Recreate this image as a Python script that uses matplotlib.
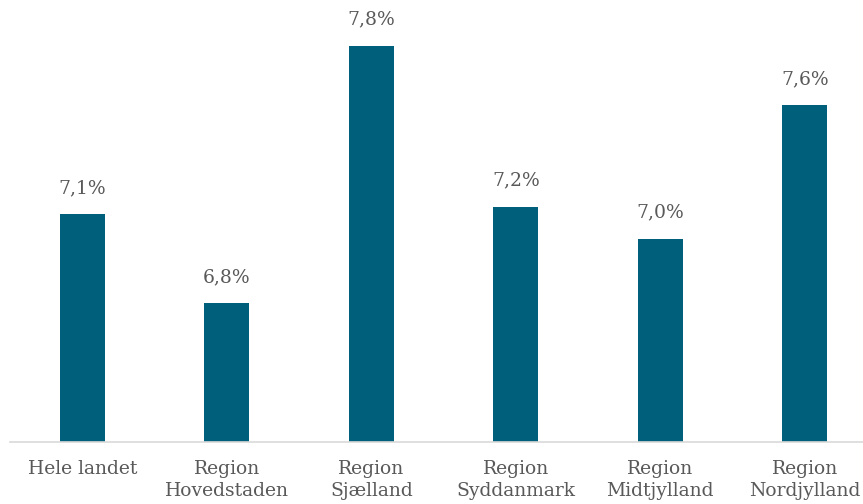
import matplotlib.pyplot as plt

regions = ["Hele landet", "Region\nHovedstaden", "Region\nSjælland",
           "Region\nSyddanmark", "Region\nMidtjylland", "Region\nNordjylland"]
shares = [7.12, 6.76, 7.80, 7.15, 7.02, 7.56]

bar_color = "#005f7a"
text_color = "#595959"

plt.rcParams['font.family'] = ['DejaVu Serif']

fig = plt.figure(figsize=(8.63, 5.04), dpi=100)
ax = fig.add_axes([10/863, 62/504, 867/863, 442/504])

x = range(len(regions))
bars = ax.bar(x, shares, width=0.31, color=bar_color, bottom=0)

for xi, v in zip(x, shares):
    ax.text(xi, v + 0.07, f"{v:.1f}%".replace('.', ','), ha='center', va='bottom',
            fontsize=13.5, color=text_color)

ax.set_ylim(6.2, 7.986)
ax.set_xlim(-0.5, len(regions) - 0.5)
ax.set_xticks(list(x))
ax.set_xticklabels(regions, fontsize=13.5, color=text_color, linespacing=1.25)
ax.tick_params(axis='x', length=0, pad=13)
ax.set_yticks([])

for side in ['top', 'right', 'left']:
    ax.spines[side].set_visible(False)
ax.spines['bottom'].set_color('#d9d9d9')
ax.spines['bottom'].set_linewidth(1.2)

plt.savefig('out.png', dpi=100)
